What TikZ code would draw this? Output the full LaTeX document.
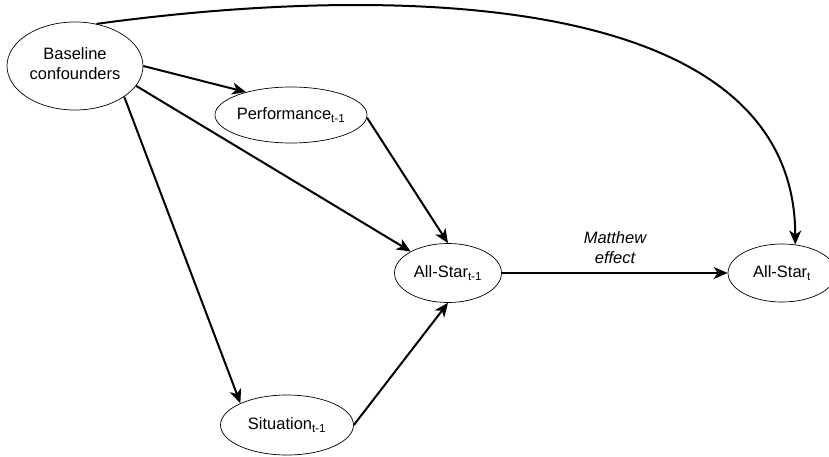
\documentclass[tikz,border=0pt]{standalone}
\usepackage{fontspec}
\setmainfont{Liberation Sans}
\usetikzlibrary{shapes.geometric,arrows.meta}
\begin{document}
\begin{tikzpicture}[x=1pt,y=-1pt,
  oval/.style={draw, ellipse, line width=0.7pt, inner sep=0pt, font=\fontsize{16.5}{20}\selectfont},
  arr/.style={line width=2pt, -{Stealth[length=14pt,width=12pt,inset=4pt]}},
  lab/.style={font=\fontsize{16.5}{20}\selectfont\itshape, align=center, inner sep=0pt}]
\useasboundingbox (0,0) rectangle (829,457);
\node[oval, minimum width=136pt, minimum height=88pt] (base) at (75,66)
  {\makebox[0pt]{\begin{tabular}{@{}c@{}}Baseline\\confounders\end{tabular}}};
\node[oval, minimum width=152pt, minimum height=56pt] (perf) at (291,115)
  {\makebox[0pt]{Performance\textsubscript{t-1}}};
\node[oval, minimum width=107pt, minimum height=59pt] (a1) at (448,273)
  {\makebox[0pt]{All-Star\textsubscript{t-1}}};
\node[oval, minimum width=108pt, minimum height=58pt] (star) at (782,273)
  {\makebox[0pt]{All-Star\textsubscript{t}}};
\node[oval, minimum width=133pt, minimum height=60pt] (sit) at (287,425)
  {\makebox[0pt]{Situation\textsubscript{t-1}}};
\node[lab] (matt) at (615,248) {Matthew\\effect};
\draw[arr] (base.east) -- (perf.153);
\draw[arr] (base.-18) -- (a1.150);
\draw[arr] (base.-32) -- (sit.155);
\draw[arr] (perf.-2) -- (a1.north);
\draw[arr] (sit.east) -- (a1.south);
\draw[arr] (a1.east) -- (star.west);
\draw[arr] (base.63) .. controls (380,-15) and (795,-15) .. (star.65);
\end{tikzpicture}
\end{document}
